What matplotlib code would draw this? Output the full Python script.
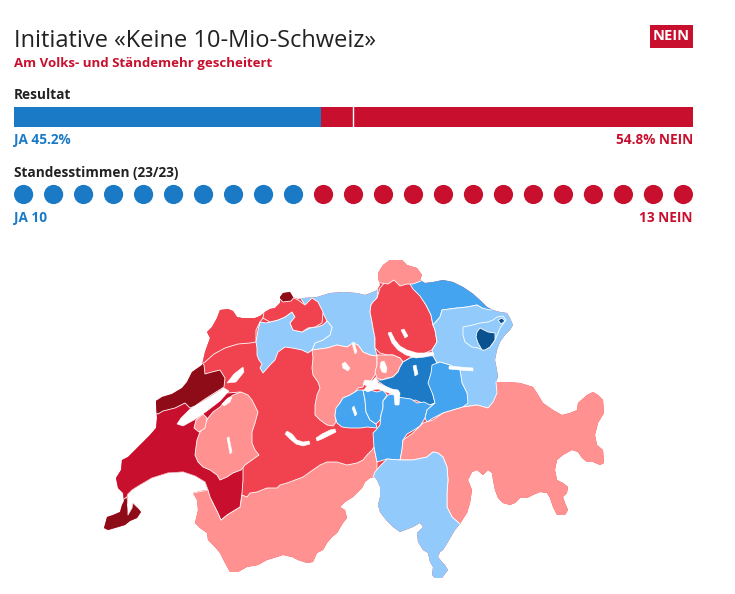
import matplotlib
matplotlib.use("Agg")
import matplotlib.pyplot as plt
from matplotlib.patches import Polygon, Rectangle, Circle

# ---------------- data ----------------
title = "Initiative «Keine 10-Mio-Schweiz»"
subtitle = "Am Volks- und Ständemehr gescheitert"
verdict = "NEIN"
ja_pct = 45.2
nein_pct = 54.8
ja_cantons = 10
nein_cantons = 13
total_cantons = 23

# colour classes of the map (0 = strongest Nein ... 7 = strongest Ja)
palette = ["#8E0B18", "#C8102E", "#F0434F", "#FF9191",
           "#92CBFB", "#44A4F0", "#1D7AC6", "#0A5190"]
BLUE = "#1B7AC6"
RED = "#C8102E"
DARK = "#222222"

# canton outlines (map units)
country = [(104,528),(107,517),(113,515),(120,512),(122,505),(124,501),(123,493),(118,488),(116,478),(121,470),(122,460),(128,457),(137,448),(143,442),(150,435),(156,428),(157,418),(156,401),(162,397),(172,394),(182,388),(187,382),(192,372),(202,365),(205,352),(210,338),(207,332),(212,327),(217,318),(220,310),(228,309),(233,311),(237,317),(242,318),(255,318),(260,316),(265,312),(270,309),(275,308),(280,303),(280,297),(283,293),(290,292),(293,297),(298,299),(303,298),(317,297),(330,293),(343,292),(357,293),(365,295),(373,292),(377,290),(380,285),(378,278),(378,273),(383,265),(390,260),(402,260),(407,265),(417,268),(422,275),(420,280),(425,283),(433,282),(443,280),(453,282),(463,287),(472,293),(480,300),(487,307),(493,310),(500,312),(507,313),(510,318),(513,325),(510,330),(505,335),(500,342),(497,350),(495,360),(497,370),(498,377),(496,382),(507,382),(520,383),(533,387),(537,393),(543,403),(553,410),(562,415),(570,413),(577,410),(578,403),(587,395),(593,392),(598,395),(603,400),(604,413),(598,423),(595,435),(597,445),(603,450),(604,463),(600,465),(593,462),(587,462),(582,458),(578,452),(572,450),(563,455),(557,460),(555,470),(557,480),(563,483),(568,487),(567,493),(563,497),(565,503),(568,510),(565,515),(557,515),(553,507),(550,498),(547,493),(540,492),(533,495),(527,498),(520,498),(515,503),(510,505),(503,503),(498,498),(495,490),(493,480),(492,473),(488,470),(483,475),(477,470),(472,472),(468,480),(472,490),(470,503),(467,513),(463,519),(460,524),(455,530),(452,535),(448,542),(443,550),(440,552),(438,557),(442,562),(445,565),(448,570),(442,578),(435,578),(432,575),(433,567),(430,562),(428,553),(423,550),(418,542),(417,533),(423,527),(420,523),(413,527),(400,532),(393,527),(386,520),(380,512),(378,505),(380,497),(380,487),(377,480),(375,477),(370,478),(365,482),(362,488),(353,497),(345,502),(340,507),(345,510),(347,518),(343,523),(340,528),(337,533),(332,537),(327,543),(323,550),(317,553),(313,562),(307,563),(298,560),(292,557),(283,555),(277,557),(267,560),(258,565),(247,567),(238,572),(230,572),(225,563),(220,553),(215,547),(208,540),(207,533),(200,528),(195,523),(198,510),(197,500),(193,493),(200,491),(208,490),(205,482),(195,476),(183,472),(168,473),(152,478),(140,485),(132,490),(128,494),(127,505),(128,515),(132,508),(133,503),(137,507),(141,512),(137,518),(130,521),(125,525),(115,528),(108,530)]

cantons = [
    ("VS", 3, [(193,493),(208,490),(213,503),(218,513),(221,520),(227,515),(235,510),(240,507),(242,495),(247,497),(250,493),(257,492),(267,488),(277,488),(280,485),(287,483),(295,480),(303,477),(310,472),(320,465),(327,462),(337,462),(347,465),(357,463),(363,460),(367,455),(372,450),(374,447),(377,462),(377,475),(385,520),(350,600),(190,600),(185,520)]),
    ("VD", 1, [(118,505),(115,488),(110,478),(115,468),(116,458),(125,452),(134,444),(140,437),(148,430),(152,420),(152,400),(190,395),(222,388),(228,393),(240,392),(250,400),(254,412),(251,425),(250,443),(252,452),(248,460),(243,465),(243,480),(242,493),(240,507),(235,510),(227,515),(221,520),(218,513),(213,503),(210,497),(208,490),(205,482),(195,476),(183,472),(168,473),(152,478),(140,485),(132,490),(128,494),(126,500)]),
    ("FR", 3, [(195,455),(196,447),(197,440),(200,432),(203,428),(208,418),(213,412),(220,407),(226,400),(233,395),(241,392),(248,395),(252,400),(258,412),(255,423),(252,432),(252,443),(255,450),(259,455),(252,460),(245,465),(241,470),(233,473),(227,477),(220,480),(217,475),(210,470),(203,467),(198,462)]),
    ("FR2", 3, [(196,420),(203,414),(207,418),(205,428),(199,432),(194,428)]),
    ("GE", 0, [(100,532),(103,516),(113,513),(119,510),(121,504),(124,499),(127,497),(128,505),(128,515),(132,508),(133,503),(137,507),(143,512),(138,520),(130,524),(125,528),(110,534)]),
    ("NE", 0, [(150,402),(160,393),(172,390),(180,385),(185,378),(190,369),(200,361),(204,365),(205,374),(212,372),(220,370),(225,378),(224,387),(216,392),(205,399),(195,406),(190,408),(185,403),(175,408),(163,411),(158,414),(152,410)]),
    ("JU", 2, [(198,366),(200,350),(204,338),(202,330),(208,323),(213,314),(217,305),(228,304),(235,306),(240,313),(255,313),(260,311),(265,307),(268,312),(263,318),(260,322),(256,330),(256,342),(250,343),(238,344),(225,348),(214,354),(205,362)]),
    ("AG", 4, [(298,294),(303,292),(317,292),(330,288),(343,287),(357,288),(365,290),(373,287),(378,289),(377,298),(373,302),(371,305),(370,312),(372,322),(373,328),(375,338),(375,348),(377,356),(370,355),(363,352),(358,345),(353,343),(347,347),(337,345),(327,348),(312,350),(315,343),(323,340),(330,335),(332,327),(327,321),(323,313),(318,308),(312,303),(305,305)]),
    ("SO", 4, [(256,342),(258,330),(260,322),(266,323),(278,320),(285,317),(292,312),(295,317),(290,323),(293,330),(302,332),(310,328),(317,327),(323,325),(327,321),(332,327),(330,335),(323,340),(315,343),(312,350),(308,353),(302,350),(292,348),(285,347),(278,352),(275,360),(270,365),(263,373),(260,368),(262,364),(259,360),(257,355),(257,348)]),
    ("BL", 2, [(263,318),(265,306),(275,303),(280,299),(292,297),(298,300),(305,305),(312,298),(318,302),(323,312),(322,323),(315,327),(308,328),(302,332),(293,330),(290,323),(295,317),(292,312),(285,317),(278,320),(270,322)]),
    ("BS", 0, [(279,298),(281,290),(290,288),(295,296),(291,301),(283,302)]),
    ("LU", 3, [(312,350),(327,348),(337,345),(347,347),(353,343),(358,345),(363,352),(370,355),(377,356),(377,365),(375,375),(370,382),(365,382),(363,387),(358,388),(355,392),(350,395),(343,398),(340,403),(337,408),(335,415),(336,422),(333,426),(327,425),(320,420),(315,415),(315,405),(317,395),(320,388),(318,382),(313,375),(312,368),(313,358)]),
    ("ZH", 2, [(373,302),(377,298),(380,288),(387,280),(393,275),(398,273),(403,279),(410,280),(413,285),(420,295),(426,305),(431,315),(433,325),(435,330),(437,342),(432,350),(423,354),(417,355),(410,358),(403,362),(400,358),(393,355),(387,355),(380,353),(375,348),(375,338),(373,328),(372,322),(370,312),(371,305)]),
    ("TG", 5, [(410,284),(418,277),(425,277),(433,276),(443,274),(453,276),(465,281),(475,287),(483,294),(490,302),(497,306),(490,312),(482,308),(477,305),(467,307),(457,308),(442,310),(440,317),(433,325),(431,315),(426,305),(420,296),(413,289)]),
    ("SH", 3, [(375,281),(374,271),(381,261),(390,255),(403,255),(409,260),(419,263),(426,273),(421,281),(413,284),(407,284),(400,286),(394,280),(388,284),(381,283)]),
    ("SG", 4, [(433,325),(440,317),(442,310),(457,308),(467,307),(477,305),(482,308),(490,310),(500,308),(510,308),(516,316),(520,325),(515,333),(509,338),(504,344),(501,351),(499,360),(501,370),(502,377),(498,383),(499,393),(495,402),(488,408),(477,405),(463,407),(467,393),(462,383),(460,370),(450,365),(440,362),(437,363),(433,356),(432,350),(437,342),(435,330)]),
    ("AR", 4, [(463,327),(473,325),(480,323),(488,322),(493,320),(497,317),(503,316),(506,320),(503,324),(500,328),(498,333),(495,340),(490,347),(483,350),(478,348),(472,347),(465,342),(463,335)]),
    ("AI", 7, [(480,328),(488,332),(495,333),(495,340),(490,347),(485,350),(482,350),(478,343),(476,337),(477,332)]),
    ("AI2", 7, [(498,320),(502,318),(505,321),(501,324)]),
    ("ZG", 3, [(377,355),(387,355),(393,355),(400,358),(403,362),(400,367),(398,372),(393,377),(387,378),(382,380),(377,378),(375,372),(377,365)]),
    ("SZ", 6, [(376,380),(382,380),(393,377),(398,372),(400,367),(403,362),(410,358),(417,356),(423,355),(433,356),(437,363),(432,370),(430,380),(432,387),(433,395),(435,403),(430,405),(425,407),(420,402),(415,400),(408,402),(403,400),(397,397),(393,392),(387,388),(382,384)]),
    ("OW", 5, [(336,408),(340,403),(343,398),(350,395),(355,392),(358,390),(363,390),(365,400),(366,412),(370,420),(376,424),(377,428),(367,427),(360,428),(350,428),(342,427),(337,423),(335,416)]),
    ("NW", 5, [(363,390),(370,390),(377,392),(383,390),(387,395),(383,401),(383,408),(381,415),(380,420),(376,424),(370,420),(366,412),(365,400)]),
    ("UR", 5, [(383,401),(388,395),(393,394),(397,397),(404,398),(411,399),(417,403),(424,402),(430,405),(435,403),(427,410),(425,418),(420,426),(414,430),(407,434),(403,440),(402,450),(400,460),(387,459),(377,462),(374,447),(373,433),(376,430),(380,425),(381,415),(383,408)]),
    ("GL", 5, [(432,365),(440,362),(450,365),(460,370),(462,383),(467,393),(468,403),(463,407),(453,410),(443,413),(433,418),(427,422),(425,418),(427,410),(435,403),(433,395),(428,383),(431,373)]),
    ("GR", 3, [(403,440),(413,433),(423,423),(433,420),(443,413),(453,410),(463,407),(477,405),(488,408),(493,402),(497,393),(496,382),(500,378),(620,375),(620,540),(470,540),(460,524),(452,517),(447,507),(447,493),(448,480),(447,467),(443,457),(438,453),(433,452),(427,457),(413,460),(400,460),(402,450)]),
    ("TI", 4, [(375,472),(380,466),(387,459),(400,460),(413,460),(427,457),(433,452),(438,453),(443,457),(447,467),(448,480),(447,493),(447,507),(452,517),(460,524),(470,540),(470,600),(360,600),(368,490)]),
]
bern_class = 2

lakes = [
    [(190,409),(205,400),(216,393),(224,388),(229,391),(220,401),(207,411),(194,420),(183,426),(177,424),(181,418)],  # Neuchatel
    [(227,383),(234,374),(243,367),(244,372),(236,382)],                                                           # Biel
    [(222,404),(228,398),(232,397),(230,402),(224,406)],                                                           # Murten
    [(287,431),(292,434),(297,440),(303,442),(309,441),(310,444),(303,446),(296,444),(290,439),(285,434)],         # Thun
    [(316,438),(322,434),(330,430),(335,429),(336,432),(330,435),(322,439),(317,441)],                             # Brienz
    [(365,380),(372,381),(376,377),(378,383),(385,386),(392,389),(398,390),(400,393),(399,405),(395,405),(394,395),(386,392),(378,389),(372,390),(368,392),(364,390),(367,386),(363,384)],  # Lucerne
    [(388,333),(391,332),(395,340),(400,346),(407,350),(417,353),(425,353),(433,352),(434,355),(425,357),(416,358),(406,355),(398,350),(392,343)],  # Zurich
    [(401,330),(404,329),(408,336),(405,338)],
    [(381,362),(384,361),(387,368),(386,373),(382,372),(380,367)],
    [(413,366),(416,365),(418,374),(415,376)],
    [(449,366),(460,367),(473,368),(473,371),(460,370),(449,369)],
    [(342,364),(345,362),(350,368),(348,371),(343,368)],
    [(352,343),(354,342),(357,352),(355,354)],
    [(352,408),(354,406),(357,414),(355,416)],
    [(227,438),(229,437),(232,452),(230,454)],
]

# ---------------- figure ----------------
W, H = 735, 594
fig = plt.figure(figsize=(W / 100, H / 100), dpi=100)
fig.patch.set_facecolor("white")
ax = fig.add_axes([0, 0, 1, 1])
ax.set_xlim(0, W)
ax.set_ylim(H, 0)
ax.axis("off")

FONT = ["Open Sans", "DejaVu Sans"]
L, R = 14, 693
BOLD_SIZE = 9.8

ax.text(L, 47, title, fontsize=17, family=FONT, color=DARK, va="baseline", ha="left")
ax.text(L, 67, subtitle, fontsize=9.55, family=FONT, weight="bold", color=RED, va="baseline")
badge = Rectangle((650, 25), R - 650, 23, facecolor=RED, edgecolor="none")
ax.add_patch(badge)
ax.text((650 + R) / 2, 36.5, verdict, fontsize=10.5, family=FONT, weight="bold", color="white", ha="center", va="center")

# Resultat bar
ax.text(L, 99.3, "Resultat", fontsize=BOLD_SIZE, family=FONT, weight="bold", color=DARK, va="baseline")
bw = R - L
ax.barh([117], [bw * ja_pct / 100], left=L, height=19.5, color=BLUE, edgecolor="none")
ax.barh([117], [bw * nein_pct / 100], left=L + bw * ja_pct / 100, height=19.5, color=RED, edgecolor="none")
ax.plot([L + bw * 0.5] * 2, [107.3, 126.7], color="white", lw=1.0)
ax.text(L, 144, f"JA {ja_pct:.1f}%", fontsize=BOLD_SIZE, family=FONT, weight="bold", color=BLUE, va="baseline")
ax.text(R, 144, f"{nein_pct:.1f}% NEIN", fontsize=BOLD_SIZE, family=FONT, weight="bold", color=RED, va="baseline", ha="right")

# Standesstimmen dots
ax.text(L, 176.7, f"Standesstimmen ({total_cantons}/{total_cantons})", fontsize=BOLD_SIZE, family=FONT, weight="bold", color=DARK, va="baseline")
r = 9.6
step = (R - L - 2 * r) / (total_cantons - 1)
for i in range(total_cantons):
    c = BLUE if i < ja_cantons else RED
    ax.add_patch(Circle((L + r + i * step, 194.5), r, facecolor=c, edgecolor="none"))
ax.text(L, 221.7, f"JA {ja_cantons}", fontsize=BOLD_SIZE, family=FONT, weight="bold", color=BLUE, va="baseline")
ax.text(R, 221.7, f"{nein_cantons} NEIN", fontsize=BOLD_SIZE, family=FONT, weight="bold", color=RED, va="baseline", ha="right")

# ---------------- map ----------------
clip = Polygon(country, closed=True, transform=ax.transData)
base = Polygon(country, closed=True, facecolor=palette[bern_class], edgecolor="none")
ax.add_patch(base)
for code, cls, pts in cantons:
    p = Polygon(pts, closed=True, facecolor=palette[cls], edgecolor="white", lw=0.6, joinstyle="round")
    ax.add_patch(p)
    p.set_clip_path(clip)
for pts in lakes:
    ax.add_patch(Polygon(pts, closed=True, facecolor="white", edgecolor="white", lw=0.4))

fig.savefig("out.png", dpi=100, facecolor="white")
